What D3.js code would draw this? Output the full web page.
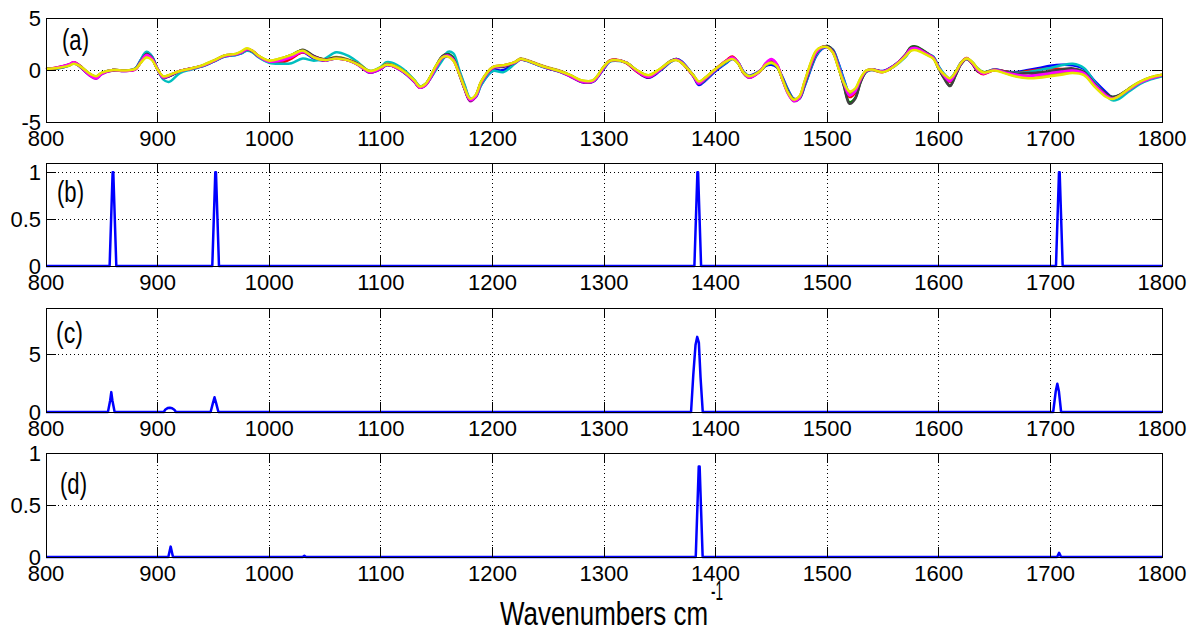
<!DOCTYPE html>
<html><head><meta charset="utf-8">
<script src="https://cdn.jsdelivr.net/npm/d3@7"></script>
<style>body{margin:0;background:#fff}</style>
</head><body><svg id="c" width="1194" height="633"></svg>
<script>
// ---------- DATA ----------
const xTicks = [800,900,1000,1100,1200,1300,1400,1500,1600,1700,1800];
const aTicks = [-5,0,5];
const bTicks = [0,0.5,1];
const cTicks = [0,5];
const dTicks = [0,0.5,1];
const panelLabels = ['(a)','(b)','(c)','(d)'];
const axisTitle = 'Wavenumbers cm';
const axisTitleSup = '-1';

const wavenumbers = [
800,810,820,825,830,840,845,850,860,870,
880,885,890,895,900,905,910,920,930,940,
950,960,970,975,980,985,990,1000,1010,1020,
1030,1040,1050,1060,1070,1080,1090,1100,1105,1110,
1120,1130,1135,1140,1150,1155,1160,1165,1170,1175,
1180,1185,1190,1200,1210,1220,1225,1230,1240,1250,
1260,1270,1280,1290,1300,1305,1310,1320,1330,1340,
1350,1360,1365,1370,1380,1385,1390,1400,1410,1415,
1420,1425,1430,1440,1445,1450,1455,1460,1465,1470,
1475,1480,1490,1495,1500,1505,1510,1515,1520,1525,
1530,1535,1540,1550,1560,1570,1575,1580,1590,1595,
1600,1605,1610,1615,1620,1625,1630,1635,1640,1650,
1660,1670,1680,1690,1700,1710,1720,1730,1740,1750,
1755,1760,1770,1780,1790,1800];

const spectraColors = ['#0000ff','#008000','#ff0000','#00bfbf','#bf00bf','#bfbf00','#404040','#ff00ff','#e6e600'];

const spectrumBlue = [
0.05,0.15,0.4,0.65,0.35,-0.55,-0.7,-0.3,-0.05,-0.05,
0.15,1.0,1.7,1.3,0.1,-0.75,-0.6,-0.15,0.1,0.35,
0.8,1.3,1.45,1.6,1.9,1.75,1.3,0.75,0.85,1.2,
1.7,1.1,0.9,1.1,0.95,0.5,-0.25,0.1,0.45,0.4,
-0.2,-1.15,-1.7,-1.45,0.2,1.05,1.35,1.05,-0.1,-1.5,
-2.8,-2.6,-1.4,-0.1,0.0,0.65,1.0,0.9,0.5,0.15,
-0.15,-0.6,-1.15,-1.15,0.15,0.8,0.95,0.7,-0.2,-0.75,
-0.1,0.8,1.05,0.8,-0.6,-1.45,-1.1,-0.1,0.7,1.05,
0.75,-0.15,-0.55,-0.05,0.4,0.5,0.25,-0.7,-1.9,-2.75,
-2.75,-1.5,1.3,2.0,2.2,1.95,0.7,-0.9,-2.2,-2.1,
-1.0,-0.15,0.05,-0.1,0.45,1.3,1.9,2.0,1.5,1.25,
0.3,-0.45,-0.85,-0.2,0.7,1.05,0.65,0.0,-0.25,0.05,
-0.15,-0.2,0.0,0.2,0.4,0.5,0.45,0.1,-1.1,-2.15,
-2.6,-2.55,-1.95,-1.3,-0.8,-0.55];

const spectrumGreen = [
0.1,0.2,0.45,0.65,0.4,-0.5,-0.65,-0.3,0.0,-0.05,
0.1,0.85,1.45,1.1,0.05,-0.7,-0.55,-0.1,0.15,0.4,
0.85,1.35,1.5,1.65,1.95,1.8,1.35,0.8,1.05,1.45,
1.9,1.3,1.0,1.15,0.95,0.55,-0.1,0.15,0.5,0.45,
-0.05,-1.0,-1.6,-1.35,0.45,1.3,1.55,1.2,-0.3,-1.8,
-2.9,-2.55,-1.25,0.15,0.4,0.7,1.05,0.95,0.55,0.2,
-0.1,-0.55,-1.05,-1.1,0.3,0.85,0.95,0.7,-0.1,-0.55,
0.05,0.9,1.05,0.7,-0.5,-1.2,-0.9,0.05,0.85,1.1,
0.7,-0.25,-0.65,-0.1,0.5,0.7,0.35,-0.9,-2.1,-2.8,
-2.7,-1.3,1.55,2.1,2.3,1.85,0.3,-1.5,-3.1,-2.7,
-1.1,-0.1,0.05,-0.15,0.4,1.45,2.2,2.25,1.6,1.2,
0.1,-0.8,-1.5,-0.5,0.6,1.1,0.65,-0.1,-0.3,0.0,
-0.15,-0.3,-0.1,-0.25,-0.2,0.0,0.1,-0.2,-1.35,-2.3,
-2.6,-2.5,-1.85,-1.2,-0.75,-0.5];

const spectrumRed = [
0.1,0.25,0.5,0.75,0.45,-0.45,-0.65,-0.3,0.0,-0.05,
0.05,0.75,1.4,1.05,0.05,-0.65,-0.55,-0.1,0.15,0.4,
0.85,1.35,1.5,1.7,2.0,1.85,1.4,0.8,0.7,1.1,
1.7,1.3,1.0,1.1,0.95,0.5,-0.15,0.2,0.5,0.4,
-0.15,-1.1,-1.7,-1.45,0.35,1.2,1.4,0.95,-0.3,-1.75,
-2.85,-2.45,-1.15,0.25,0.45,0.75,1.05,0.95,0.55,0.2,
-0.1,-0.55,-1.1,-1.1,0.25,0.9,1.0,0.65,-0.2,-0.7,
0.0,0.85,1.0,0.65,-0.55,-1.25,-0.85,0.1,0.95,1.3,
0.75,-0.3,-0.7,-0.1,0.6,0.9,0.45,-0.95,-2.2,-2.9,
-2.65,-1.1,1.75,2.2,2.25,1.75,0.3,-1.35,-2.6,-2.2,
-0.9,-0.1,0.0,-0.2,0.35,1.4,2.1,2.15,1.5,1.2,
0.15,-0.65,-1.15,-0.35,0.7,1.15,0.6,-0.15,-0.4,0.0,
-0.15,-0.3,-0.1,0.05,0.15,0.1,0.05,-0.3,-1.45,-2.4,
-2.7,-2.55,-1.9,-1.25,-0.8,-0.5];

const spectrumCyan = [
0.05,0.15,0.4,0.65,0.4,-0.45,-0.65,-0.3,0.0,-0.1,
0.15,1.0,1.75,1.3,0.0,-0.9,-1.15,-0.3,0.05,0.35,
0.8,1.3,1.45,1.6,1.85,1.7,1.25,0.7,0.6,0.65,
1.1,0.9,1.1,1.7,1.4,0.7,-0.1,0.3,0.75,0.7,
0.1,-0.95,-1.55,-1.4,0.1,0.9,1.75,1.6,0.1,-1.4,
-2.7,-2.6,-1.45,-0.1,-0.2,0.6,1.0,0.9,0.5,0.15,
-0.15,-0.6,-1.1,-1.1,0.2,0.8,0.9,0.7,-0.1,-0.6,
-0.05,0.8,1.0,0.75,-0.5,-1.3,-1.0,0.0,0.75,1.1,
0.75,-0.2,-0.6,-0.1,0.45,0.65,0.35,-0.8,-2.0,-2.8,
-2.75,-1.45,1.4,2.05,2.25,1.95,0.6,-1.0,-2.2,-2.1,
-1.0,-0.2,0.0,-0.15,0.35,1.25,1.9,2.0,1.55,1.3,
0.35,-0.4,-0.8,-0.2,0.7,1.05,0.75,0.15,-0.2,0.05,
-0.2,-0.3,-0.2,0.0,0.2,0.45,0.6,0.2,-1.2,-2.4,
-2.9,-2.85,-2.1,-1.35,-0.9,-0.6];

const spectrumPurple = [
0.05,0.2,0.5,0.7,0.35,-0.6,-0.85,-0.4,-0.05,-0.1,
0.05,0.8,1.5,1.15,0.05,-0.75,-0.6,-0.1,0.1,0.4,
0.85,1.4,1.5,1.7,1.95,1.8,1.35,0.85,0.95,1.3,
1.8,1.2,0.9,1.15,0.95,0.45,-0.25,0.1,0.5,0.4,
-0.15,-1.1,-1.7,-1.5,0.3,1.15,1.35,0.95,-0.3,-1.8,
-3.0,-2.6,-1.25,0.15,0.35,0.7,1.0,0.95,0.55,0.15,
-0.15,-0.65,-1.15,-1.1,0.25,0.85,0.95,0.7,-0.15,-0.65,
0.0,0.85,1.0,0.7,-0.6,-1.3,-0.95,0.05,0.9,1.2,
0.75,-0.3,-0.75,-0.1,0.65,1.0,0.5,-0.95,-2.3,-3.0,
-2.75,-1.2,1.6,2.15,2.2,1.75,0.35,-1.3,-2.45,-2.05,
-0.9,-0.1,0.05,-0.15,0.4,1.35,2.0,2.1,1.55,1.2,
0.2,-0.6,-1.1,-0.3,0.7,1.1,0.7,0.0,-0.3,0.05,
-0.25,-0.5,-0.55,-0.4,-0.35,-0.2,-0.1,-0.35,-1.45,-2.4,
-2.7,-2.55,-1.9,-1.2,-0.75,-0.45];

const spectrumOlive = [
0.1,0.2,0.4,0.65,0.4,-0.45,-0.65,-0.3,0.0,-0.05,
0.1,0.75,1.35,1.05,0.05,-0.65,-0.5,-0.1,0.15,0.45,
0.9,1.4,1.55,1.75,2.05,1.85,1.4,0.9,1.1,1.45,
1.9,1.3,1.0,1.25,1.05,0.6,-0.1,0.25,0.6,0.5,
-0.05,-1.0,-1.6,-1.35,0.5,1.25,1.4,1.0,-0.2,-1.65,
-2.8,-2.45,-1.1,0.25,0.45,0.75,1.1,1.0,0.6,0.25,
-0.05,-0.5,-1.0,-1.0,0.35,0.9,0.95,0.7,-0.05,-0.5,
0.1,0.85,0.95,0.65,-0.5,-1.15,-0.8,0.1,0.9,1.1,
0.65,-0.25,-0.6,-0.1,0.55,0.75,0.4,-0.9,-2.15,-2.8,
-2.55,-1.05,1.8,2.2,2.25,1.7,0.25,-1.3,-2.2,-1.9,
-0.8,-0.05,0.05,-0.2,0.4,1.35,1.95,2.0,1.45,1.15,
0.15,-0.5,-0.9,-0.2,0.7,1.1,0.75,0.1,-0.2,0.0,
-0.3,-0.6,-0.75,-0.7,-0.5,-0.3,-0.2,-0.4,-1.6,-2.5,
-2.75,-2.55,-1.8,-1.15,-0.7,-0.45];

const spectrumDark = [
0.1,0.2,0.45,0.7,0.4,-0.5,-0.7,-0.3,0.0,-0.05,
0.1,0.85,1.55,1.15,0.05,-0.7,-0.6,-0.1,0.15,0.4,
0.85,1.35,1.5,1.7,2.0,1.8,1.35,0.85,0.95,1.3,
1.95,1.35,1.0,1.2,1.0,0.55,-0.15,0.2,0.55,0.45,
-0.1,-1.05,-1.65,-1.4,0.45,1.3,1.5,1.1,-0.25,-1.75,
-2.95,-2.5,-1.2,0.2,0.3,0.7,1.05,0.95,0.55,0.2,
-0.1,-0.55,-1.1,-1.1,0.3,0.85,0.95,0.7,-0.1,-0.6,
0.0,0.85,1.0,0.7,-0.55,-1.3,-0.95,0.05,0.85,1.1,
0.7,-0.25,-0.65,-0.1,0.5,0.7,0.35,-0.9,-2.1,-2.85,
-2.7,-1.3,1.55,2.15,2.3,1.9,0.35,-1.55,-3.25,-2.8,
-1.15,-0.15,0.05,-0.15,0.4,1.45,2.15,2.2,1.55,1.2,
0.1,-0.85,-1.55,-0.55,0.55,1.05,0.6,-0.15,-0.3,0.0,
-0.2,-0.35,-0.3,-0.25,-0.1,0.05,0.15,-0.2,-1.35,-2.3,
-2.6,-2.5,-1.85,-1.2,-0.75,-0.5];

const spectrumMagenta = [
0.05,0.25,0.5,0.75,0.4,-0.55,-0.8,-0.35,0.0,-0.1,
0.05,0.8,1.45,1.1,0.05,-0.7,-0.55,-0.1,0.15,0.4,
0.85,1.35,1.5,1.7,2.0,1.85,1.35,0.8,0.9,1.25,
1.75,1.25,0.95,1.1,0.95,0.5,-0.2,0.15,0.5,0.4,
-0.15,-1.1,-1.7,-1.45,0.35,1.2,1.4,1.0,-0.25,-1.75,
-2.9,-2.55,-1.2,0.2,0.4,0.7,1.05,0.95,0.55,0.2,
-0.1,-0.6,-1.1,-1.1,0.25,0.85,0.95,0.7,-0.15,-0.65,
0.0,0.85,1.0,0.7,-0.55,-1.3,-0.9,0.05,0.9,1.2,
0.75,-0.25,-0.7,-0.1,0.65,1.05,0.55,-0.95,-2.25,-2.95,
-2.7,-1.15,1.65,2.15,2.2,1.75,0.35,-1.3,-2.45,-2.05,
-0.9,-0.1,0.05,-0.15,0.4,1.4,2.05,2.1,1.5,1.2,
0.2,-0.6,-1.05,-0.3,0.65,1.1,0.65,-0.05,-0.35,0.0,
-0.25,-0.45,-0.6,-0.45,-0.3,-0.15,-0.05,-0.3,-1.45,-2.45,
-2.75,-2.6,-1.9,-1.25,-0.8,-0.5];

const spectrumYellow = [
0.1,0.2,0.4,0.6,0.4,-0.4,-0.6,-0.25,0.0,-0.05,
0.1,0.7,1.2,0.95,0.05,-0.6,-0.5,-0.1,0.15,0.45,
0.9,1.4,1.55,1.8,2.1,1.85,1.4,0.9,1.1,1.45,
1.85,1.2,0.95,1.1,0.95,0.5,-0.1,0.25,0.5,0.45,
-0.1,-1.0,-1.6,-1.35,0.5,1.2,1.3,0.9,-0.3,-1.7,
-2.75,-2.4,-1.1,0.25,0.45,0.75,1.05,0.95,0.55,0.2,
-0.1,-0.5,-1.0,-1.0,0.35,0.85,0.95,0.7,-0.05,-0.5,
0.1,0.85,0.95,0.65,-0.5,-1.1,-0.8,0.1,0.85,1.05,
0.65,-0.25,-0.6,-0.1,0.5,0.7,0.35,-0.95,-2.2,-2.85,
-2.55,-1.0,1.85,2.2,2.2,1.7,0.2,-1.25,-2.05,-1.8,
-0.75,-0.05,0.05,-0.2,0.35,1.3,1.85,1.9,1.4,1.1,
0.15,-0.45,-0.8,-0.2,0.7,1.1,0.75,0.1,-0.25,-0.05,
-0.35,-0.65,-0.8,-0.75,-0.6,-0.45,-0.3,-0.5,-1.65,-2.6,
-2.8,-2.6,-1.85,-1.15,-0.7,-0.45];

const spectra = [spectrumBlue, spectrumGreen, spectrumRed, spectrumCyan, spectrumPurple,
                 spectrumOlive, spectrumDark, spectrumMagenta, spectrumYellow];

const bWn  = [800, 857.0,859.7,860.3,863.0, 949.0,951.7,952.3,955.0, 1381.0,1383.7,1384.3,1387.0, 1705.0,1707.7,1708.3,1711.0, 1800];
const bVal = [0,   0,1,1,0,                 0,1,1,0,                 0,1,1,0,                     0,1,1,0,                     0];

const cWn  = [800, 855.5,857.5,858.5,859.5,861.5, 905.5,907,909,911,913,915,916.5, 947.5,949.5,951,952.5,954.5,
              1378,1380,1382,1383.5,1385,1386.5,1388.5, 1702.5,1704.8,1706.2,1707.6,1709.6, 1800];
const cVal = [0, 0,1.0,1.72,1.0,0, 0,0.22,0.34,0.37,0.33,0.2,0, 0,0.75,1.28,0.75,0,
              0,3.2,5.8,6.5,6.0,3.0,0, 0,1.8,2.45,1.8,0, 0];

const dWn  = [800, 909.6,911.7,913.8, 1030,1031.5,1033, 1382.2,1384.9,1385.7,1388.4, 1706,1707.8,1709.6, 1800];
const dVal = [0,   0,0.1,0,           0,0.012,0,        0,0.87,0.87,0,              0,0.04,0,            0];

// ---------- DRAW ----------
const svg = d3.select('#c');
svg.append('rect').attr('width',1194).attr('height',633).attr('fill','#fff');
const FONT = '"Liberation Sans", Arial, Helvetica, sans-serif';
const x = d3.scaleLinear().domain([800,1800]).range([46,1162]);
const X0 = x(800), X1 = x(1800);

const panels = [
  {top:18,  bottom:122, domain:[-5,5],  ticks:aTicks, lx:62, ly:50},
  {top:163, bottom:266, domain:[0,1.1], ticks:bTicks, lx:57, ly:202},
  {top:308, bottom:412, domain:[0,9],   ticks:cTicks, lx:56, ly:343},
  {top:453, bottom:557, domain:[0,1],   ticks:dTicks, lx:60, ly:494}
];

panels.forEach((p, i) => {
  const y = d3.scaleLinear().domain(p.domain).range([p.bottom, p.top]);
  const g = svg.append('g');
  // grid
  const grid = g.append('g').attr('stroke','#000').attr('stroke-width',1)
     .attr('stroke-dasharray','1,3').attr('shape-rendering','crispEdges');
  xTicks.slice(1,-1).forEach(t => {
    grid.append('line').attr('x1',x(t)).attr('x2',x(t)).attr('y1',p.top).attr('y2',p.bottom);
  });
  p.ticks.forEach(t => {
    const yy = y(t);
    if (Math.abs(yy-p.top) < 1 || Math.abs(yy-p.bottom) < 1) return;
    grid.append('line').attr('x1',X0).attr('x2',X1).attr('y1',yy).attr('y2',yy);
  });
  // data
  const dg = g.append('g');
  if (i === 0) {
    const line = d3.line().x((d,k)=>x(wavenumbers[k])).y(d=>y(d)).curve(d3.curveCatmullRom.alpha(0.5));
    spectra.forEach((s, k) => {
      dg.append('path').attr('d', line(s.slice(0, wavenumbers.length)))
        .attr('fill','none').attr('stroke', spectraColors[k]).attr('stroke-width',2.5)
        .attr('stroke-linejoin','round');
    });
  } else {
    const wn = [bWn,cWn,dWn][i-1], vals = [bVal,cVal,dVal][i-1];
    const line = d3.line().x((d,k)=>x(wn[k])).y(d=>y(d));
    dg.append('path').attr('d', line(vals)).attr('fill','none').attr('stroke','#0000ff')
      .attr('stroke-width',2.5).attr('stroke-linejoin','round');
  }
  // box and ticks
  const ax = g.append('g').attr('stroke','#000').attr('stroke-width',1).attr('shape-rendering','crispEdges');
  ax.append('rect').attr('x',X0).attr('y',p.top).attr('width',X1-X0).attr('height',p.bottom-p.top).attr('fill','none');
  xTicks.forEach(t => {
    ax.append('line').attr('x1',x(t)).attr('x2',x(t)).attr('y1',p.bottom).attr('y2',p.bottom-10);
    ax.append('line').attr('x1',x(t)).attr('x2',x(t)).attr('y1',p.top).attr('y2',p.top+10);
  });
  p.ticks.forEach(t => {
    ax.append('line').attr('x1',X0).attr('x2',X0+10).attr('y1',y(t)).attr('y2',y(t));
    ax.append('line').attr('x1',X1).attr('x2',X1-10).attr('y1',y(t)).attr('y2',y(t));
  });
  // tick labels
  const tl = g.append('g').attr('font-family',FONT).attr('font-size',22).attr('fill','#000');
  xTicks.forEach(t => {
    tl.append('text').attr('x',x(t)).attr('y',p.bottom+23.5).attr('text-anchor','middle').text(String(t));
  });
  p.ticks.forEach(t => {
    tl.append('text').attr('x',41).attr('y',y(t)).attr('dy','0.36em').attr('text-anchor','end').text(String(t));
  });
  // panel label
  g.append('text').attr('x',p.lx).attr('y',p.ly).attr('font-family',FONT).attr('font-size',30)
    .attr('textLength',27).attr('lengthAdjust','spacingAndGlyphs').text(panelLabels[i]);
});

// axis title
svg.append('text').attr('x',500).attr('y',625).attr('font-family',FONT).attr('font-size',33)
  .attr('textLength',208).attr('lengthAdjust','spacingAndGlyphs').text(axisTitle);
svg.append('text').attr('x',711).attr('y',600).attr('font-family',FONT).attr('font-size',27)
  .attr('textLength',12).attr('lengthAdjust','spacingAndGlyphs').text(axisTitleSup);
</script>
</body></html>
